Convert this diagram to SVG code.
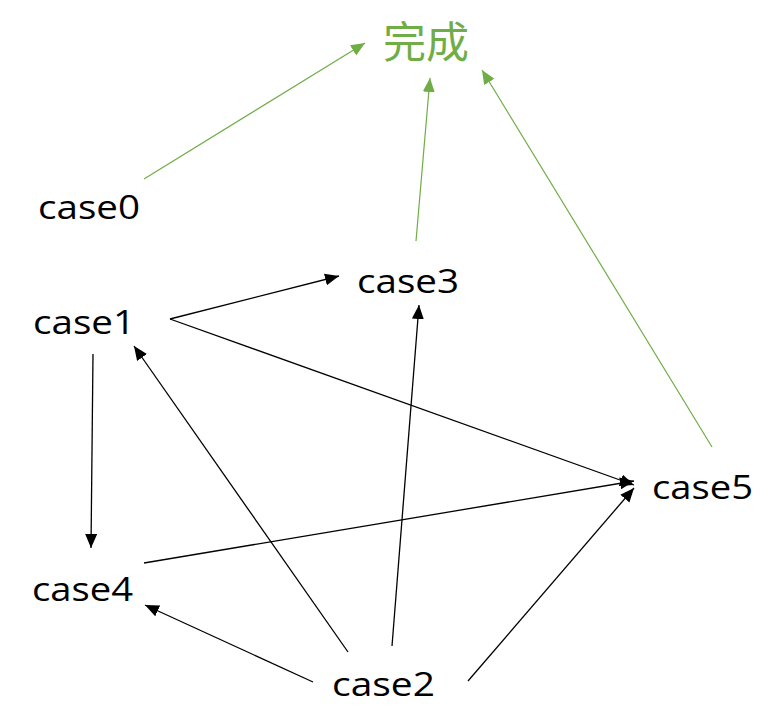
<svg xmlns="http://www.w3.org/2000/svg" width="776" height="719" viewBox="0 0 776 719">
<style>
.t{font-family:"Open Sans","Liberation Sans",sans-serif;font-size:32px;fill:#000}
.g{font-family:"Noto Sans CJK SC","Noto Sans",sans-serif;font-size:43px;fill:#70AD47}
.k{stroke:#000;stroke-width:1.3;fill:none;marker-end:url(#ak)}
.gl{stroke:#70AD47;stroke-width:1.2;fill:none;marker-end:url(#ag)}
</style>
<defs>
<marker id="ak" markerUnits="userSpaceOnUse" markerWidth="16" markerHeight="14" refX="14" refY="6" orient="auto" viewBox="0 0 16 14">
<path d="M0,0 L14,6 L0,12 z" fill="#000"/>
</marker>
<marker id="ag" markerUnits="userSpaceOnUse" markerWidth="16" markerHeight="14" refX="14" refY="6" orient="auto" viewBox="0 0 16 14">
<path d="M0,0 L14,6 L0,12 z" fill="#70AD47"/>
</marker>
</defs>
<rect width="776" height="719" fill="#fff"/>
<g id="connectors">
<line class="gl" x1="144" y1="179" x2="365" y2="43"/>
<line class="gl" x1="416" y1="241" x2="430" y2="78"/>
<line class="gl" x1="712" y1="447" x2="482" y2="70"/>
<line class="k" x1="170" y1="319" x2="339" y2="276"/>
<line class="k" x1="170" y1="319" x2="634" y2="485"/>
<line class="k" x1="93" y1="354" x2="91" y2="548"/>
<line class="k" x1="348" y1="652" x2="134" y2="346"/>
<line class="k" x1="392" y1="646" x2="419" y2="305"/>
<line class="k" x1="313" y1="682" x2="145" y2="605"/>
<line class="k" x1="468" y1="681" x2="634" y2="488"/>
<line class="k" x1="144" y1="563" x2="634" y2="481"/>
</g>
<g id="node-done"><text class="g" x="383" y="58">完成</text></g>
<g id="node-case0"><text class="t" x="38" y="219" textLength="102" lengthAdjust="spacingAndGlyphs">case0</text></g>
<g id="node-case1"><text class="t" x="33" y="334" textLength="102" lengthAdjust="spacingAndGlyphs">case1</text></g>
<g id="node-case3"><text class="t" x="357" y="293" textLength="102" lengthAdjust="spacingAndGlyphs">case3</text></g>
<g id="node-case4"><text class="t" x="32" y="601" textLength="101" lengthAdjust="spacingAndGlyphs">case4</text></g>
<g id="node-case2"><text class="t" x="332" y="696" textLength="103" lengthAdjust="spacingAndGlyphs">case2</text></g>
<g id="node-case5"><text class="t" x="652" y="499" textLength="101" lengthAdjust="spacingAndGlyphs">case5</text></g>
</svg>
